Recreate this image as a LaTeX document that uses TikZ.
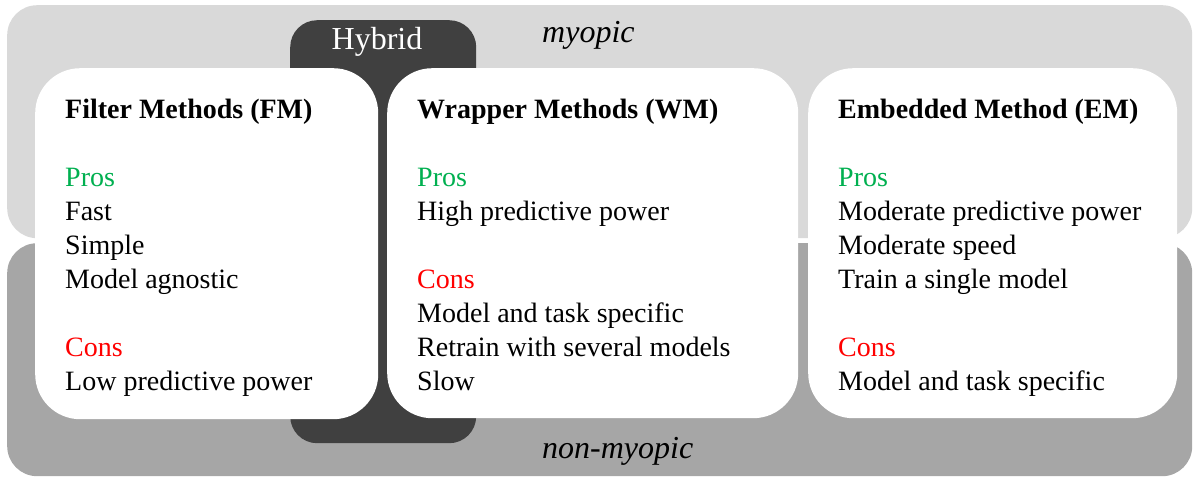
\documentclass[tikz,border=0pt]{standalone}
\usepackage{fontspec}
\setmainfont{Liberation Serif}
\definecolor{bandlight}{HTML}{D9D9D9}
\definecolor{banddark}{HTML}{A6A6A6}
\definecolor{hybridgray}{HTML}{404040}
\definecolor{prosgreen}{HTML}{00B050}
\definecolor{consred}{HTML}{FF0000}
\begin{document}
\begin{tikzpicture}[x=1pt,y=-1pt,
  band/.style={draw=none, rounded corners=30pt, inner sep=0pt, anchor=north west},
  card/.style={draw=none, fill=white, rounded corners=45pt, inner sep=0pt, anchor=north west},
  txt/.style={inner sep=0pt, anchor=base west, font=\fontsize{28}{34}\selectfont},
  lbl/.style={inner sep=0pt, anchor=base west, font=\fontsize{32}{38}\selectfont\itshape},
  pros/.style={txt, text=prosgreen},
  cons/.style={txt, text=consred}]
\useasboundingbox (0,0) rectangle (1193,477);

% background bands
\node[band, fill=bandlight, minimum width=1185pt, minimum height=233pt] (myo) at (7,5) {};
\node[band, fill=banddark, minimum width=1185pt, minimum height=233pt] (nonmyo) at (7,243) {};

% hybrid column behind the cards
\node[band, fill=hybridgray, rounded corners=27pt, minimum width=186pt, minimum height=423pt] (hyb) at (290,20) {};
\node[inner sep=0pt, anchor=base, text=white, font=\fontsize{32}{38}\selectfont] (hybtxt) at (377,49) {Hybrid};

\node[lbl] (myotxt) at (542,42) {myopic};
\node[lbl] (nonmyotxt) at (542,458) {non-myopic};

% method cards
\node[card, minimum width=343pt, minimum height=351pt] (fm) at (35,68) {};
\node[card, minimum width=411pt, minimum height=350pt] (wm) at (387,68) {};
\node[card, minimum width=369pt, minimum height=350pt] (em) at (808,68) {};

% filter methods
\node[txt, font=\fontsize{28}{34}\selectfont\bfseries] (fmt) at (65,118) {Filter Methods (FM)};
\node[pros] (fmp) at (65,186) {Pros};
\node[txt] (fm1) at (65,220) {Fast};
\node[txt] (fm2) at (65,254) {Simple};
\node[txt] (fm3) at (65,288) {Model agnostic};
\node[cons] (fmc) at (65,356) {Cons};
\node[txt] (fm4) at (65,390) {Low predictive power};

% wrapper methods
\node[txt, font=\fontsize{28}{34}\selectfont\bfseries] (wmt) at (417,118) {Wrapper Methods (WM)};
\node[pros] (wmp) at (417,186) {Pros};
\node[txt] (wm1) at (417,220) {High predictive power};
\node[cons] (wmc) at (417,288) {Cons};
\node[txt] (wm2) at (417,322) {Model and task specific};
\node[txt] (wm3) at (417,356) {Retrain with several models};
\node[txt] (wm4) at (417,390) {Slow};

% embedded method
\node[txt, font=\fontsize{28}{34}\selectfont\bfseries] (emt) at (838,118) {Embedded Method (EM)};
\node[pros] (emp) at (838,186) {Pros};
\node[txt] (em1) at (838,220) {Moderate predictive power};
\node[txt] (em2) at (838,254) {Moderate speed};
\node[txt] (em3) at (838,288) {Train a single model};
\node[cons] (emc) at (838,356) {Cons};
\node[txt] (em4) at (838,390) {Model and task specific};
\end{tikzpicture}
\end{document}
